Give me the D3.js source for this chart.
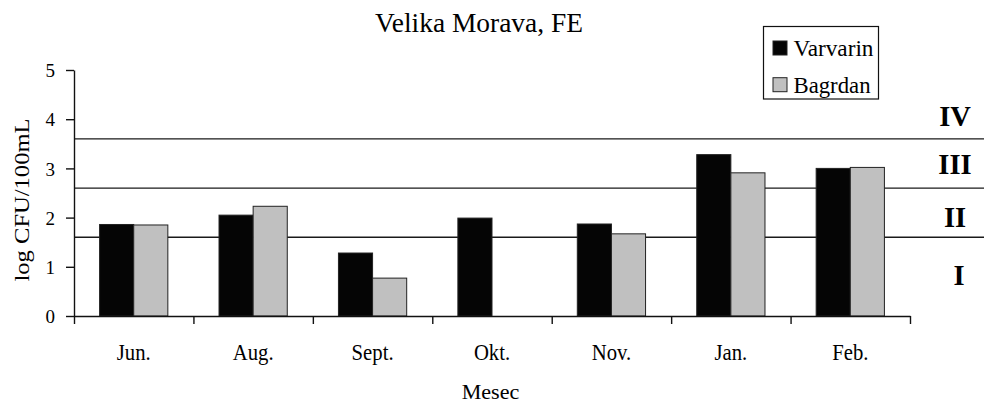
<!DOCTYPE html>
<html>
<head>
<meta charset="utf-8">
<script src="https://cdn.jsdelivr.net/npm/d3@7"></script>
<style>
  html, body { margin: 0; padding: 0; background: #fff; }
  svg { display: block; }
  text { font-family: "Liberation Serif", "Times New Roman", serif; fill: #000; }
</style>
</head>
<body>
<svg id="chart" width="984" height="405"></svg>
<script>
const title = "Velika Morava, FE";
const categories = ["Jun.", "Aug.", "Sept.", "Okt.", "Nov.", "Jan.", "Feb."];
const seriesNames = ["Varvarin", "Bagrdan"];
const varvarin = [1.86, 2.05, 1.28, 1.99, 1.87, 3.28, 3.00];
const bagrdan = [1.85, 2.23, 0.77, null, 1.67, 2.91, 3.02];
const yTicks = [0, 1, 2, 3, 4, 5];
const classLimits = [1.6, 2.6, 3.6];
const classLabels = ["I", "II", "III", "IV"];
const classLabelLevels = [0.85, 2.03, 3.09, 4.08];
const xTitle = "Mesec";
const yTitle = "log CFU/100mL";

(function() {
const colors = ["#050505", "#c0c0c0"];
const svg = d3.select("#chart");

const mLeft = 74, mRight = 910, mTop = 70, mBottom = 316;

const y = d3.scaleLinear().domain([0, 5]).range([mBottom, mTop]);
const x = d3.scaleBand().domain(categories).range([mLeft, mRight]).paddingInner(0).paddingOuter(0);
const xb = d3.scaleLinear().domain([0, categories.length]).range([mLeft, mRight]);
const xs = d3.scaleBand().domain(seriesNames).range([0, x.bandwidth()]).paddingInner(0).paddingOuter(0.75);

const seriesData = [varvarin, bagrdan];
const rows = [];
seriesData.forEach((vals, si) => {
  vals.forEach((v, ci) => {
    if (v !== null && v !== undefined) rows.push({cat: categories[ci], s: seriesNames[si], v: v, si: si});
  });
});

// class limit lines
svg.append("g").selectAll("line").data(classLimits).join("line")
  .attr("x1", mLeft).attr("x2", 984)
  .attr("y1", d => y(d)).attr("y2", d => y(d))
  .attr("stroke", "#1a1a1a").attr("stroke-width", 1.4);

// bars
svg.append("g").selectAll("rect").data(rows).join("rect")
  .attr("x", d => x(d.cat) + xs(d.s))
  .attr("y", d => y(d.v))
  .attr("width", xs.bandwidth())
  .attr("height", d => y(0) - y(d.v))
  .attr("fill", d => colors[d.si])
  .attr("stroke", "#222").attr("stroke-width", 1);

// y axis
const ya = svg.append("g").attr("transform", `translate(${mLeft},0)`)
  .call(d3.axisLeft(y).tickValues(yTicks).tickSize(8).tickSizeOuter(0).tickPadding(11).tickFormat(d3.format("d")));
ya.select(".domain").attr("stroke", "#111").attr("stroke-width", 1.4);
ya.selectAll(".tick line").attr("stroke", "#111").attr("stroke-width", 1.4);
ya.selectAll(".tick text").attr("font-family", "Liberation Serif").attr("font-size", 19).attr("dy", "0.35em");

// x axis: boundary ticks
const xa = svg.append("g").attr("transform", `translate(0,${mBottom})`)
  .call(d3.axisBottom(xb).tickValues(d3.range(categories.length + 1)).tickSize(8).tickSizeOuter(0).tickFormat(""));
xa.select(".domain").attr("stroke", "#111").attr("stroke-width", 1.4);
xa.selectAll(".tick line").attr("stroke", "#111").attr("stroke-width", 1.4);

// x axis labels
const xl = svg.append("g").attr("transform", `translate(0,${mBottom})`)
  .call(d3.axisBottom(x).tickSize(0).tickPadding(0));
xl.select(".domain").remove();
xl.selectAll(".tick text").attr("font-family", "Liberation Serif").attr("font-size", 23)
  .attr("y", 44).attr("dy", 0)
  .each(function() {
    const w = this.getComputedTextLength();
    d3.select(this).attr("textLength", w * 0.9).attr("lengthAdjust", "spacingAndGlyphs");
  });

// title
svg.append("text").attr("x", 479).attr("y", 31.7).attr("text-anchor", "middle")
  .attr("font-size", 27).attr("textLength", 208).attr("lengthAdjust", "spacingAndGlyphs").text(title);

// axis titles
svg.append("text").attr("x", 490.5).attr("y", 399).attr("text-anchor", "middle")
  .attr("font-size", 22).attr("textLength", 57.6).attr("lengthAdjust", "spacingAndGlyphs").text(xTitle);
svg.append("text").attr("transform", "translate(28.5,200) rotate(-90)").attr("text-anchor", "middle")
  .attr("font-size", 21).attr("textLength", 163).attr("lengthAdjust", "spacingAndGlyphs").text(yTitle);

// class labels
svg.append("g").selectAll("text").data(classLabels).join("text")
  .attr("x", (d, i) => i === 0 ? 959 : 955).attr("y", (d, i) => y(classLabelLevels[i]))
  .attr("dy", "0.35em").attr("text-anchor", "middle")
  .attr("font-size", 30).attr("font-weight", "bold").text(d => d)
  .each(function() {
    const w = this.getComputedTextLength();
    d3.select(this).attr("textLength", w * 0.95).attr("lengthAdjust", "spacingAndGlyphs");
  });

// legend
const lg = svg.append("g");
lg.append("rect").attr("x", 763.5).attr("y", 26.5).attr("width", 115).attr("height", 72.5)
  .attr("fill", "#fff").attr("stroke", "#111").attr("stroke-width", 1.2);
const legendLen = [80, 77];
seriesNames.forEach((s, i) => {
  const by = 56 + i * 36.7;
  lg.append("rect").attr("x", 773).attr("y", by - 15).attr("width", 14).attr("height", 14)
    .attr("fill", colors[i]).attr("stroke", "#222").attr("stroke-width", 1);
  lg.append("text").attr("x", 793.5).attr("y", by).attr("font-size", 24)
    .attr("textLength", legendLen[i]).attr("lengthAdjust", "spacingAndGlyphs").text(s);
});
})();
</script>
</body>
</html>
